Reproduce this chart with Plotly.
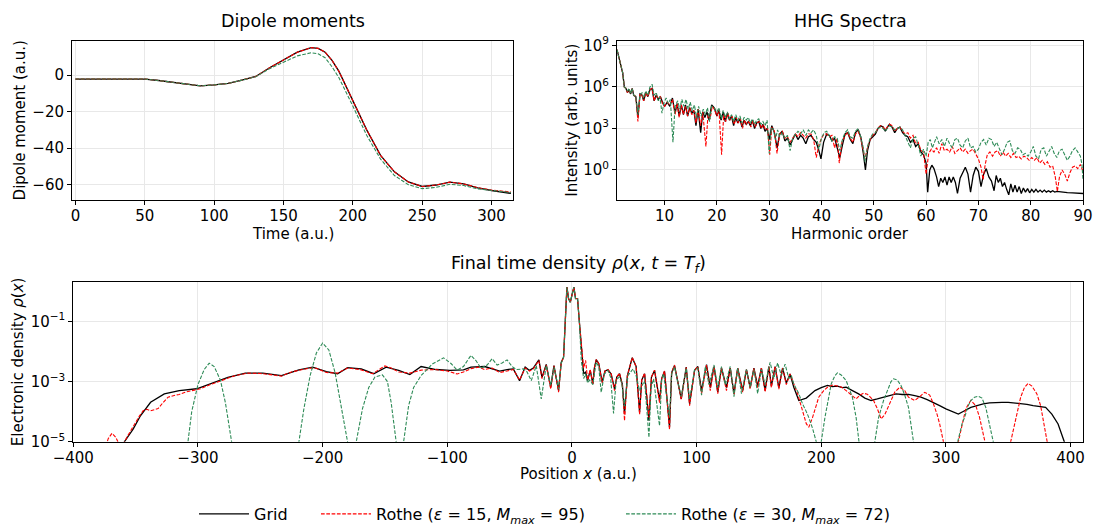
import plotly.graph_objects as go

# ---------------- Dipole moments ----------------
dip_t = [0, 10, 20, 30, 40, 50, 60, 70, 80, 90, 100, 110, 120, 130, 140, 150, 160, 170, 175,
         180, 185, 190, 195, 200, 210, 220, 230, 240, 250, 260, 270, 280, 290, 300, 310, 314]
dip_grid = [-2.2, -2.2, -2.1, -2.0, -2.0, -2.2, -3.0, -4.0, -5.0, -5.9, -5.4, -4.6, -2.8, -0.8, 4.0,
            8.3, 12.5, 15.0, 14.6, 12.5, 8.0, 2.0, -6.0, -14.5, -30.0, -44.0, -53.0, -58.5, -61.0,
            -60.2, -58.6, -59.6, -61.8, -63.2, -64.3, -64.8]
dip_r15 = [-2.2, -2.2, -2.1, -2.0, -2.0, -2.2, -3.0, -4.0, -5.0, -5.9, -5.4, -4.6, -2.8, -0.8, 4.0,
           8.3, 12.5, 15.0, 14.6, 12.5, 8.0, 2.0, -6.0, -14.5, -30.0, -44.0, -53.0, -58.5, -61.0,
           -60.2, -58.6, -59.6, -61.6, -63.0, -63.8, -64.0]
dip_r30 = [-2.2, -2.2, -2.1, -2.0, -2.0, -2.2, -3.0, -4.0, -5.0, -5.9, -5.4, -4.6, -2.8, -0.9, 3.5,
           7.0, 10.5, 12.2, 11.6, 9.5, 4.5, -1.5, -9.0, -17.0, -33.0, -46.0, -55.0, -60.0, -62.2,
           -61.5, -59.8, -60.5, -62.3, -63.3, -64.0, -64.3]

# ---------------- HHG spectra (log10 of intensity) ----------------
hhg_h_grid = [0.9, 1.3, 1.7, 2.0, 2.3, 2.6, 2.9, 3.2, 3.5, 3.8, 4.1, 4.5, 4.9, 5.3, 5.7, 6.0, 6.4, 6.8,
              7.2, 7.6, 8.0, 8.4, 8.8, 9.2, 9.6, 10.0, 10.5, 11.0, 11.5, 12.0, 12.4, 12.8, 13.2, 13.6,
              14.0, 14.4, 14.8, 15.2, 15.6, 16.0, 16.4, 16.9, 17.3, 17.7, 18.1, 18.5, 19.0, 19.5, 20.0,
              20.4, 20.8, 21.2, 21.6, 22.0, 22.4, 22.8, 23.2, 23.6, 24.0, 24.4, 24.8, 25.2, 25.6, 26.0,
              26.4, 26.8, 27.2, 27.6, 28.0, 28.4, 28.8, 29.2, 29.6, 30.0, 30.5, 31.0, 31.5, 32.0, 32.5,
              33.0, 33.5, 34.0, 34.5, 35.0, 35.5, 36.0, 36.5, 37.0, 37.5, 38.0, 38.5, 39.0, 39.5, 39.9,
              40.4, 41.0, 41.5, 42.0, 42.5, 43.0, 43.5, 44.0, 44.5, 45.0, 45.5, 46.0, 46.5, 47.0, 47.5,
              48.0, 48.4, 48.8, 49.3, 49.8, 50.3, 50.8, 51.3, 51.8, 52.2, 52.6, 53.0, 53.5, 54.0, 54.5,
              55.0, 55.5, 56.0, 56.5, 57.0, 57.5, 58.0, 58.5, 59.0, 59.5, 60.0, 60.3, 60.7, 61.1, 61.5,
              62.0, 62.4, 62.8, 63.2, 63.6, 64.0, 64.4, 64.8, 65.2, 65.6, 66.0, 66.5, 67.0, 67.5, 68.0,
              68.5, 69.0, 69.5, 70.0, 70.5, 71.0, 71.5, 72.0, 72.5, 73.0, 73.4, 73.8, 74.2, 74.6, 75.0,
              75.4, 75.8, 76.2, 76.6, 77.0, 77.4, 77.8, 78.2, 78.6, 79.0, 79.4, 79.8, 80.2, 80.6, 81.0,
              81.4, 81.8, 82.2, 82.6, 83.0, 83.4, 83.8, 84.2, 84.6, 85.0, 86.0, 87.0, 88.0, 89.0, 90.0]
hhg_grid_log = [8.7, 8.0, 7.4, 7.0, 6.0, 5.9, 5.6, 5.8, 5.5, 5.9, 5.4, 5.3, 3.8, 5.5, 5.4, 5.0, 5.6, 5.3,
                5.8, 5.9, 5.0, 5.4, 5.1, 5.3, 4.9, 4.6, 4.9, 4.6, 5.2, 4.1, 4.8, 3.9, 4.7, 4.0,
                4.7, 3.9, 4.5, 4.1, 4.3, 3.2, 4.4, 2.7, 4.2, 3.8, 4.2, 3.6, 4.7, 4.5, 3.9,
                4.3, 3.6, 4.2, 3.5, 4.1, 3.6, 3.9, 3.2, 3.8, 3.4, 3.7, 3.1, 3.6, 3.3, 3.5,
                3.2, 3.6, 3.0, 3.4, 3.5, 3.0, 3.3, 2.8, 3.0, 2.2, 3.2, 2.7, 1.6, 2.6, 2.8,
                2.1, 2.3, 1.8, 2.2, 2.6, 2.2, 2.5, 2.3, 1.9, 2.4, 2.5, 2.2, 2.0, 1.4, 0.8,
                2.0, 2.6, 2.5, 2.1, 2.3, 1.5, 0.9, 1.8, 2.6, 2.7, 2.2, 1.9, 2.7, 2.9, 2.4,
                1.2, 0.0, 1.4, 2.2, 2.4, 2.6, 3.0, 3.2, 3.1, 2.8, 3.1, 3.3, 3.1, 2.7, 3.0,
                3.1, 2.7, 2.5, 2.4, 2.0, 2.2, 1.7, 1.9, 1.3, 1.1, 0.5, -1.6, 0.0, 0.35, 0.1,
                -0.5, -1.2, -0.6, -0.9, -0.5, -1.1, -0.5, -0.9, -0.5, -0.9, -1.7, -0.6, -0.2, 0.2, -0.3,
                -1.6, -0.4, 0.2, -0.1, -1.2, -0.3, 0.1, -0.5, -0.8, -1.5, -0.4, -0.9, -0.6, -1.2, -0.9,
                -1.4, -1.8, -1.0, -1.6, -1.1, -1.6, -1.2, -1.7, -1.3, -1.6, -1.35, -1.65, -1.4, -1.6, -1.4,
                -1.6, -1.45, -1.6, -1.45, -1.6, -1.5, -1.6, -1.5, -1.6, -1.55, -1.62, -1.64, -1.65, -1.68, -1.7]

hhg_h_r15 = [0.9, 1.3, 1.7, 2.0, 2.3, 2.6, 2.9, 3.2, 3.5, 3.8, 4.1, 4.5, 4.9, 5.3, 5.7, 6.0, 6.4, 6.8,
             7.2, 7.6, 8.0, 8.4, 8.8, 9.2, 9.6, 10.0, 10.5, 11.0, 11.5, 12.0, 12.4, 12.8, 13.2, 13.6,
             14.0, 14.4, 14.8, 15.2, 15.6, 16.0, 16.4, 16.9, 17.3, 17.9, 18.3, 18.7, 19.1, 19.5, 20.0,
             20.4, 20.9, 21.3, 21.7, 22.1, 22.5, 22.9, 23.3, 23.7, 24.1, 24.5, 24.9, 25.3, 25.7, 26.1,
             26.5, 26.9, 27.3, 27.7, 28.1, 28.5, 28.9, 29.3, 29.7, 30.1, 30.5, 31.0, 31.5, 32.0, 32.5,
             33.0, 33.5, 34.0, 34.5, 35.0, 35.5, 36.0, 36.5, 37.0, 37.5, 38.0, 38.5, 39.0, 39.5, 40.0,
             40.5, 41.0, 41.5, 42.0, 42.5, 43.0, 43.4, 43.9, 44.5, 45.0, 45.5, 46.0, 46.5, 47.0, 47.5,
             48.0, 48.3, 48.8, 49.3, 49.8, 50.3, 50.8, 51.3, 51.8, 52.2, 52.6, 53.0, 53.5, 54.0, 54.5,
             55.0, 55.5, 56.0, 56.5, 57.0, 57.5, 58.0, 58.5, 59.0, 59.5, 60.0, 60.5, 61.0, 61.5, 62.0,
             62.5, 63.0, 63.5, 64.0, 64.5, 65.0, 65.5, 66.0, 66.5, 67.0, 67.5, 68.0, 68.5, 69.0, 69.5,
             70.0, 70.5, 70.9, 71.3, 71.7, 72.2, 72.7, 73.2, 73.7, 74.2, 74.7, 75.2, 75.7, 76.2, 76.7,
             77.2, 77.7, 78.2, 78.7, 79.2, 79.7, 80.2, 80.7, 81.2, 81.7, 82.2, 82.7, 83.2, 83.7, 84.2,
             84.7, 85.1, 85.5, 86.0, 86.5, 87.0, 87.5, 88.0, 88.5, 89.0, 89.5, 90.0]
hhg_r15_log = [8.7, 8.0, 7.4, 7.0, 6.0, 5.9, 5.6, 5.8, 5.5, 5.9, 5.4, 5.3, 3.5, 5.5, 5.4, 5.0, 5.6, 5.3,
               5.8, 5.9, 5.0, 5.4, 5.2, 5.3, 4.8, 4.6, 4.9, 4.7, 5.1, 4.0, 4.8, 3.8, 4.7, 4.0,
               4.6, 3.9, 4.5, 4.0, 4.3, 3.4, 4.4, 3.2, 4.2, 1.7, 4.0, 3.7, 4.6, 4.4, 3.9,
               4.3, 1.1, 4.0, 3.5, 4.1, 3.6, 3.9, 3.3, 3.8, 3.4, 3.7, 3.0, 3.6, 3.3, 3.5,
               3.1, 3.6, 3.1, 3.4, 3.5, 3.0, 3.3, 2.9, 3.0, 1.1, 3.1, 2.8, 1.2, 2.6, 2.8,
               2.3, 2.4, 2.0, 2.3, 2.6, 2.4, 2.7, 2.5, 2.3, 2.6, 2.6, 2.2, 0.9, 1.8, 2.3,
               2.6, 2.6, 2.4, 2.5, 1.6, 2.3, 0.5, 2.0, 2.5, 2.7, 2.3, 2.0, 2.6, 2.8, 2.3,
               1.5, 0.8, 1.6, 2.2, 2.5, 2.7, 3.0, 3.2, 3.1, 2.9, 3.1, 3.3, 3.2, 2.8, 3.0,
               3.1, 2.8, 2.6, 2.7, 2.3, 2.5, 1.9, 2.0, 1.4, 1.3, -0.3, 1.2, 1.5, 1.3, 1.6,
               1.2, 1.9, 1.4, 1.5, 1.3, 1.7, 1.2, 1.4, 1.6, 1.3, 1.5, 1.2, 1.4, 1.5, 1.1,
               0.8, 0.2, -0.7, 0.4, 1.1, 1.3, 1.0, 1.3, 1.4, 1.0, 1.3, 1.0, 1.2, 0.9, 1.2,
               0.9, 1.0, 0.8, 1.0, 0.9, 0.7, 0.9, 0.7, 0.9, 0.5, 0.7, 0.4, 0.6, 0.2, 0.3,
               -0.5, -1.55, -0.5, 0.0, -0.3, -0.8, -0.2, 0.2, 0.3, 0.1, 0.4, -0.1]

hhg_h_r30 = [0.9, 1.3, 1.7, 2.0, 2.3, 2.6, 2.9, 3.2, 3.5, 3.8, 4.1, 4.5, 4.9, 5.3, 5.7, 6.0, 6.4, 6.8,
             7.2, 7.6, 8.0, 8.4, 8.8, 9.1, 9.5, 9.9, 10.3, 10.7, 11.1, 11.6, 12.0, 12.5, 12.9, 13.3,
             13.7, 14.1, 14.5, 14.9, 15.3, 15.7, 16.1, 16.5, 17.0, 17.4, 17.8, 18.2, 18.6, 19.0, 19.5,
             20.0, 20.4, 20.8, 21.2, 21.6, 22.0, 22.4, 22.8, 23.2, 23.6, 24.0, 24.4, 24.8, 25.2, 25.6,
             26.0, 26.4, 26.8, 27.2, 27.6, 28.0, 28.4, 28.8, 29.2, 29.6, 30.0, 30.4, 30.8, 31.2, 31.6,
             32.0, 32.5, 33.0, 33.5, 34.0, 34.5, 35.0, 35.5, 36.0, 36.5, 37.0, 37.5, 38.0, 38.5, 39.0,
             39.5, 40.0, 40.5, 41.0, 41.5, 42.0, 42.5, 43.0, 43.5, 44.0, 44.5, 45.0, 45.5, 46.0, 46.5,
             47.0, 47.5, 48.0, 48.3, 48.8, 49.3, 49.8, 50.3, 50.8, 51.3, 51.8, 52.2, 52.6, 53.0, 53.5,
             54.0, 54.5, 55.0, 55.5, 56.0, 56.5, 57.0, 57.5, 58.0, 58.5, 59.0, 59.5, 60.0, 60.4, 60.8,
             61.2, 61.6, 62.0, 62.5, 63.0, 63.5, 64.0, 64.5, 65.0, 65.5, 66.0, 66.5, 67.0, 67.5, 68.0,
             68.5, 69.0, 69.5, 70.0, 70.5, 71.0, 71.5, 72.0, 72.5, 73.0, 73.5, 74.0, 74.5, 75.0, 75.5,
             76.0, 76.5, 77.0, 77.5, 78.0, 78.5, 79.0, 79.5, 80.0, 80.5, 81.0, 81.5, 82.0, 82.5, 83.0,
             83.5, 84.0, 84.5, 85.0, 85.5, 86.0, 86.5, 87.0, 87.5, 88.0, 88.5, 89.0, 89.5, 89.8, 90.0]
hhg_r30_log = [8.7, 8.0, 7.4, 7.0, 6.0, 5.9, 5.7, 5.9, 5.5, 5.9, 5.4, 5.3, 4.0, 5.4, 5.6, 5.2, 5.7, 5.4,
               6.0, 6.2, 5.4, 5.6, 5.0, 5.3, 4.1, 4.9, 5.2, 4.8, 5.1, 2.0, 4.6, 5.0, 4.4, 5.1,
               4.6, 5.1, 4.4, 4.9, 4.3, 4.7, 3.8, 4.6, 3.9, 4.4, 4.0, 4.5, 3.5, 4.6, 4.5,
               4.2, 4.5, 3.7, 4.3, 3.8, 4.2, 3.7, 4.0, 3.5, 4.0, 3.6, 3.9, 3.4, 3.8, 3.6,
               3.8, 3.4, 3.7, 3.3, 3.6, 3.7, 3.3, 3.5, 3.2, 3.6, 1.2, 3.0, 2.9, 2.2, 2.9,
               2.4, 2.7, 2.3, 2.5, 1.4, 2.3, 2.6, 2.8, 2.6, 2.9, 2.5, 2.9, 2.7, 2.9, 2.5,
               1.5, 2.3, 2.7, 2.8, 2.5, 2.1, 2.4, 2.3, 1.4, 2.2, 2.7, 2.9, 2.4, 2.3, 2.8,
               3.0, 2.4, 1.6, 0.6, 1.7, 2.3, 2.6, 2.7, 3.0, 3.1, 3.0, 2.8, 3.0, 3.2, 3.1,
               2.9, 3.0, 3.1, 2.9, 2.5, 2.1, 1.6, 2.3, 2.4, 1.8, 1.0, 1.5, 1.0, 2.0, 2.2,
               1.6, 2.0, 2.4, 1.9, 2.2, 1.7, 2.3, 1.9, 1.6, 2.2, 2.3, 1.8, 1.6, 2.1, 2.3,
               1.6, 1.7, 1.3, 1.5, 2.0, 2.2, 1.8, 2.3, 2.2, 1.7, 2.0, 1.6, 1.1, 1.5, 2.0,
               2.1, 1.4, 1.2, 1.6, 1.5, 1.1, 1.2, 1.0, 1.3, 1.7, 1.0, 0.8, 1.5, 1.6, 1.0,
               1.3, 1.7, 1.2, 0.9, 1.4, 1.5, 1.1, 0.7, 1.0, 1.4, 1.6, 1.3, 1.0, 0.4, -0.7]

# ---------------- Final time density (log10 of rho) ----------------
den_x_grid = [-400, -365, -359, -352, -346, -338, -327, -315, -301, -290, -276, -262, -248, -233, -219,
              -208, -197, -188, -180, -169, -159, -149, -139, -130, -121, -109, -98, -87, -81, -70,
              -58, -52, -47, -42, -37.5, -34, -31, -26.5, -24, -20.6, -17, -14.4, -10.7, -8.6, -6.7,
              -5.3, -4, -2.7, -1.3, 0, 1.6, 2.9, 4.5, 6.1, 8, 9.4, 11, 12.6, 14.7, 16.8, 18, 19.5, 21.5,
              24.3, 26.5, 28.9, 31.5, 34.2, 36, 38.2, 40.5, 42.2, 44.5, 48.4, 51.5, 54.3, 56, 58.3, 61.8,
              63.8, 66.3, 70.3, 72, 74.3, 78.3, 80, 82.3, 87.7, 91.7, 94.4, 98.4,
              101, 104, 108, 111, 114, 117, 120, 124, 127, 130, 133, 137, 140, 143, 146, 149, 152, 155,
              158, 160, 163, 166, 169, 172, 175, 178, 182, 188, 195, 200, 205, 209, 213, 217, 220, 225,
              230, 235, 240, 245, 250, 255, 260, 265, 270, 275, 280, 285, 290, 295, 300, 305, 310, 315,
              320, 325, 330, 335, 340, 345, 350, 355, 360, 365, 370, 375, 380, 385, 390, 395, 400]
den_grid_log = [-8, -6, -5.0, -4.58, -4.13, -3.69, -3.41, -3.3, -3.24, -3.08, -2.86, -2.72, -2.72, -2.8, -2.61,
                -2.52, -2.67, -2.74, -2.54, -2.58, -2.74, -2.52, -2.63, -2.77, -2.5, -2.6, -2.63, -2.61, -2.52, -2.5,
                -2.65, -2.6, -2.58, -2.97, -2.52, -2.63, -2.55, -2.28, -2.86, -2.43, -3.19, -2.47, -3.3, -2.36, -2.19,
                -0.97, 0.14, -0.24, -0.36, -0.13, 0.14, -0.24, -0.24, -1.08, -2.19, -2.74, -2.69, -2.97, -2.63, -3.08, -2.55, -2.27, -2.4,
                -3.02, -2.65, -2.61, -2.75, -3.24, -2.85, -2.74, -3.1, -4.08, -2.8, -2.21, -2.5, -4.02, -2.95, -2.74, -4.3,
                -2.85, -2.63, -3.63, -2.9, -2.66, -4.52, -2.7, -2.47, -3.58, -2.52, -3.74, -2.63,
                -2.5, -3.3, -2.44, -3.2, -2.5, -3.35, -2.55, -3.2, -2.55, -3.4, -2.55, -3.3, -2.6, -3.2, -2.55, -3.15, -2.55, -3.3,
                -2.5, -3.15, -2.5, -3.2, -2.55, -3.05, -2.75, -3.19, -3.63, -3.55, -3.3, -3.2, -3.13, -3.17, -3.15, -3.2, -3.19, -3.3,
                -3.41, -3.55, -3.63, -3.58, -3.52, -3.47, -3.41, -3.43, -3.43, -3.47, -3.52, -3.6, -3.69, -3.8, -3.91, -4.0, -4.08, -3.97,
                -3.86, -3.8, -3.74, -3.71, -3.69, -3.69, -3.69, -3.71, -3.74, -3.76, -3.8, -3.83, -3.86, -4.08, -4.41, -5.0, -6.0]

den_x_r15 = [-400, -380, -375, -372, -369, -366, -363, -360, -357, -351, -347, -344, -341, -338, -332,
             -328, -324, -318, -315, -310, -305, -298, -290, -280, -270, -260, -250, -240, -233, -225,
             -219, -210, -205, -197, -188, -180, -170, -160, -150, -145, -139, -130, -121, -110, -100,
             -92, -87, -81, -75, -70, -64, -58, -52, -47, -42, -37.5, -34, -31, -26.5, -24, -20.6, -17,
             -14.4, -10.7, -8.6, -6.7, -5.3, -4, -2.7, -1.3, 0, 1.6, 2.9, 4.5, 6.1, 8, 9.4, 11, 12.6,
             14.7, 16.8, 18, 19.5, 21.5, 24.3, 26.5, 28.9, 31.5, 34.2, 36, 38.2, 40.5, 42.2, 44.5, 48.4,
             51.5, 54.3, 56, 58.3, 61.8, 63.8, 66.3, 70.3, 72, 74.3, 78.3, 80, 82.3, 87.7, 91.7, 94.4, 98.4,
             101, 104, 108, 111, 114, 117, 120, 124, 127, 130, 133, 137, 140, 143, 146, 149, 152, 155,
             158, 160, 163, 166, 169, 172, 175, 178, 181, 185, 188, 190, 193, 198, 202, 205, 209, 212,
             216, 220, 224, 228, 231, 234, 237, 242, 245, 248, 251, 255, 259, 263, 267, 270, 275, 279,
             283, 287, 290, 293, 295, 298, 304, 310, 313, 316, 320, 324, 327, 330, 332, 342, 352, 356,
             360, 363, 366, 369, 373, 376, 379, 382, 390, 410]
den_r15_log = [-8, -7, -5.3, -4.9, -4.72, -4.85, -5.1, -5.1, -4.85, -4.41, -4.15, -3.97, -3.92, -3.97, -3.9,
               -3.7, -3.52, -3.45, -3.43, -3.35, -3.3, -3.24, -3.1, -2.95, -2.8, -2.72, -2.73, -2.78, -2.82, -2.68,
               -2.62, -2.55, -2.56, -2.7, -2.72, -2.55, -2.6, -2.74, -2.48, -2.55, -2.68, -2.72, -2.62, -2.6, -2.65,
               -2.75, -2.68, -2.57, -2.52, -2.6, -2.55, -2.7, -2.65, -2.6, -2.95, -2.55, -2.65, -2.58, -2.3, -2.9, -2.45, -3.25,
               -2.48, -3.35, -2.38, -2.2, -0.97, 0.14, -0.24, -0.36, -0.13, 0.14, -0.24, -0.24, -1.08, -2.1, -2.55, -2.3, -2.95,
               -2.6, -3.1, -2.55, -2.27, -2.4, -3.05, -2.65, -2.6, -2.75, -3.3, -2.85, -2.72, -3.15, -4.3, -2.8, -2.2,
               -2.5, -4.1, -2.95, -2.72, -4.2, -2.85, -2.62, -3.7, -2.9, -2.65, -4.6, -2.7, -2.45, -3.6, -2.52, -3.8, -2.62,
               -2.5, -3.4, -2.45, -3.3, -2.5, -3.4, -2.55, -3.3, -2.55, -3.45, -2.55, -3.35, -2.6, -3.25, -2.55, -3.2, -2.55, -3.35,
               -2.5, -3.2, -2.5, -3.25, -2.55, -3.1, -2.75, -3.08, -3.4, -3.97, -4.4, -4.52, -4.2, -3.52, -3.3, -3.19, -3.12, -3.14,
               -3.18, -3.3, -3.45, -3.58, -3.45, -3.39, -3.42, -3.63, -3.9, -4.24, -4.1, -3.74, -3.35, -3.19, -3.3, -3.52, -3.63, -3.5,
               -3.36, -3.45, -3.74, -4.1, -4.41, -5.0, -7.0, -5.0, -4.5, -3.9, -3.63, -3.8, -4.19, -4.7, -5.0, -7.0, -5.0, -4.3,
               -3.52, -3.2, -3.06, -3.15, -3.41, -3.8, -4.41, -5.0, -7.0, -8.0]

den_x_r30 = [-400, -320, -308, -305, -300, -295, -291, -287, -282, -278, -273, -246, -219, -215, -210,
             -205, -200, -195, -190, -185, -180, -176, -173, -168, -163, -158, -152, -148, -145, -141,
             -138, -135, -131, -127, -121, -112, -103, -97, -92, -87, -81, -77, -73, -68, -64, -60, -56,
             -52, -48, -44.6, -39, -36.6, -32.6, -28.6, -24.6, -20.6, -17, -14.4, -10.7, -8.6, -6.7,
             -5.3, -4, -2.7, -1.3, 0, 1.6, 2.9, 4.5, 6.1, 7.5, 9.4, 11, 12.6, 14.2, 16.8, 19.5, 21.5,
             23.5, 26, 28.9, 31, 33.4, 35.5, 38, 40, 42, 45, 49, 51.5, 54.3, 58.3, 61.8, 63.5, 65.5, 70.3,
             72, 73.5, 78.3, 80, 82.3, 87.7, 91.7, 94.4, 98.4,
             101, 104, 107, 110, 114, 117, 120, 123, 127, 130, 133, 136, 140, 143, 146, 149, 152, 155,
             159, 162, 165, 168, 171, 174, 176, 178, 182, 185, 188, 190, 193, 196, 198, 200, 203, 206,
             208, 211, 213, 216, 220, 223, 225, 228, 230, 236, 243, 246, 250, 253, 256, 258, 261, 264,
             267, 270, 272, 274, 292, 310, 313, 315, 318, 320, 323, 326, 329, 332, 335, 338, 350, 410]
den_r30_log = [-9, -8, -5.0, -4.0, -3.1, -2.6, -2.39, -2.5, -2.95, -3.7, -5.0, -9.0, -5.0, -3.9, -2.8,
               -2.05, -1.72, -1.95, -2.7, -3.8, -5.0, -7.0, -5.0, -3.9, -3.2, -2.85, -2.78, -3.0, -3.7, -5.0,
               -7.0, -5.0, -3.8, -3.2, -2.8, -2.42, -2.21, -2.4, -2.62, -2.5, -2.13, -2.3, -2.56, -2.45, -2.24, -2.45, -2.38,
               -2.28, -2.5, -2.6, -2.58, -2.63, -2.97, -2.47, -3.58, -2.47, -3.13, -2.52, -3.24, -2.4, -2.19,
               -0.97, 0.14, -0.24, -0.36, -0.13, 0.14, -0.24, -0.24, -1.08, -2.3, -2.9, -2.75, -3.05, -2.95, -3.1, -2.35, -2.5,
               -3.36, -2.75, -2.63, -2.85, -4.06, -2.95, -2.85, -3.05, -3.83, -2.8, -2.58, -2.8, -3.3, -2.97, -4.86, -3.2, -2.91, -4.47,
               -2.95, -2.74, -4.19, -2.75, -2.52, -3.5, -2.55, -3.6, -2.6,
               -2.55, -3.45, -2.5, -3.1, -2.45, -3.2, -2.5, -3.1, -2.5, -3.5, -2.55, -3.4, -2.6, -3.2, -2.6, -3.4, -2.6, -3.1,
               -2.36, -2.9, -2.38, -2.8, -2.42, -2.9, -2.8, -3.08, -3.4, -3.74, -4.0, -4.19, -4.55, -5.0, -7.0, -5.0, -4.19, -3.5,
               -3.08, -2.8, -2.71, -2.78, -2.97, -3.3, -3.52, -4.2, -5.0, -7.0, -5.0, -4.2, -3.63, -3.3, -3.0, -2.91, -2.95, -3.13,
               -3.45, -3.86, -4.4, -5.0, -8.0, -5.0, -4.4, -4.19, -3.8, -3.63, -3.52, -3.49, -3.55, -3.86, -4.4, -5.0, -8.0, -9.0]

series_names = ["Grid", "Rothe (<i>ε</i> = 15, <i>M<sub>max</sub></i> = 95)",
                "Rothe (<i>ε</i> = 30, <i>M<sub>max</sub></i> = 72)"]
series_colors = ["black", "#ff0000", "#2e8b57"]

FONT = "DejaVu Sans"
W, H = 1094, 527

def pw(px):
    return px / W

def ph(py):
    return 1 - py / H

def pow10(vals):
    return [10 ** v for v in vals]

fig = go.Figure()

line_styles = [dict(color=series_colors[0], width=1.3),
               dict(color=series_colors[1], width=1.1, dash="3.7px,1.6px"),
               dict(color=series_colors[2], width=1.1, dash="3.7px,1.6px")]
legend_ids = ["legend", "legend2", "legend3"]

# dipole
for i, y in enumerate([dip_grid, dip_r15, dip_r30]):
    fig.add_trace(go.Scatter(x=dip_t, y=y, mode="lines", line=line_styles[i], name=series_names[i],
                             legend=legend_ids[i], showlegend=True, xaxis="x", yaxis="y"))
# hhg
for i, (hx, hy) in enumerate([(hhg_h_grid, hhg_grid_log), (hhg_h_r15, hhg_r15_log), (hhg_h_r30, hhg_r30_log)]):
    fig.add_trace(go.Scatter(x=hx, y=pow10(hy), mode="lines", line=line_styles[i], name=series_names[i],
                             showlegend=False, xaxis="x2", yaxis="y2"))
# density
for i, (dx, dy) in enumerate([(den_x_grid, den_grid_log), (den_x_r15, den_r15_log), (den_x_r30, den_r30_log)]):
    fig.add_trace(go.Scatter(x=dx, y=pow10(dy), mode="lines", line=line_styles[i], name=series_names[i],
                             showlegend=False, xaxis="x3", yaxis="y3"))

TICK = 15
axis_common = dict(showline=True, linecolor="black", linewidth=1, mirror=True, ticks="outside",
                   ticklen=4, tickwidth=1, tickcolor="black", showgrid=True,
                   gridcolor="#e8e8e8", gridwidth=1, zeroline=False, automargin=False,
                   tickfont=dict(family=FONT, size=TICK, color="black"),
                   title_font=dict(family=FONT, size=15, color="black"))
xaxis_common = dict(axis_common, ticklabelstandoff=-2)

top_y = [ph(200), ph(40.5)]
bot_y = [ph(441.7), ph(282)]

legend_common = dict(orientation="h", xanchor="left", y=ph(514), yanchor="middle",
                     font=dict(family=FONT, size=16, color="black"), bgcolor="rgba(0,0,0,0)",
                     itemwidth=50)

fig.update_layout(
    width=W, height=H,
    margin=dict(l=0, r=0, t=0, b=0, autoexpand=False),
    paper_bgcolor="white", plot_bgcolor="white",
    font=dict(family=FONT, color="black"),
    showlegend=True,
    legend=dict(legend_common, x=pw(194)),
    legend2=dict(legend_common, x=pw(316)),
    legend3=dict(legend_common, x=pw(621)),
    xaxis=dict(xaxis_common, domain=[pw(72), pw(513)], range=[-2.5, 315.5], anchor="y",
               tickvals=[0, 50, 100, 150, 200, 250, 300]),
    yaxis=dict(axis_common, domain=top_y, range=[-68.4, 18.9], anchor="x",
               tickvals=[0, -20, -40, -60],
               title=dict(text="Dipole moment (a.u.)", standoff=3)),
    xaxis2=dict(xaxis_common, domain=[pw(617), pw(1083)], range=[0.9, 90], anchor="y2",
                tickvals=[10, 20, 30, 40, 50, 60, 70, 80, 90]),
    yaxis2=dict(axis_common, domain=top_y, type="log", range=[-2.17, 9.36], anchor="x2",
                tickvals=[1, 1e3, 1e6, 1e9],
                ticktext=["10<sup>0</sup>", "10<sup>3</sup>", "10<sup>6</sup>", "10<sup>9</sup>"],
                title=dict(text="Intensity (arb. units)", standoff=1)),
    xaxis3=dict(xaxis_common, domain=[pw(73.3), pw(1083)], range=[-400, 410], anchor="y3",
                tickvals=[-400, -300, -200, -100, 0, 100, 200, 300, 400]),
    yaxis3=dict(axis_common, domain=bot_y, type="log", range=[-5, 0.31], anchor="x3",
                tickvals=[1e-5, 1e-3, 1e-1],
                ticktext=["10<sup>−5</sup>", "10<sup>−3</sup>", "10<sup>−1</sup>"],
                title=dict(text="Electronic density <i>ρ</i>(<i>x</i>)", standoff=3)),
)

titles = [("Dipole moments", pw(292.5), ph(21), 17.5),
          ("HHG Spectra", pw(850), ph(21), 17.5),
          ("Final time density <i>ρ</i>(<i>x</i>, <i>t</i> = <i>T<sub>f</sub></i>)", pw(578), ph(264), 17.5),
          ("Time (a.u.)", pw(292.5), ph(234), 15),
          ("Harmonic order", pw(850), ph(234), 15),
          ("Position <i>x</i> (a.u.)", pw(578), ph(474), 15)]
for txt, x, y, fs in titles:
    fig.add_annotation(text=txt, x=x, y=y, xref="paper", yref="paper", showarrow=False,
                       xanchor="center", yanchor="middle", borderpad=0,
                       font=dict(family=FONT, size=fs, color="black"))

fig.write_html("out.html")
